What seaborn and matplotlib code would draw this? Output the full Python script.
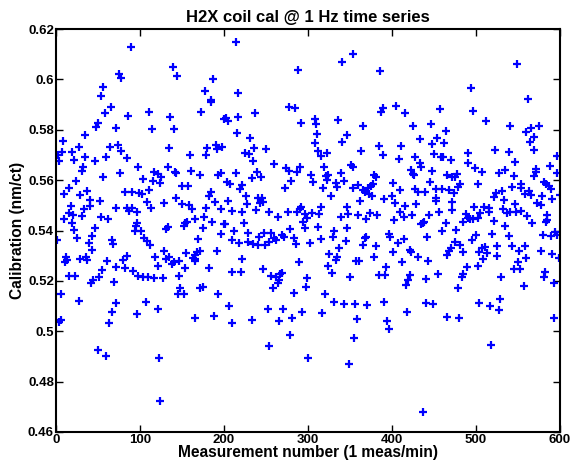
import matplotlib
matplotlib.use("Agg")
import matplotlib.pyplot as plt
import seaborn as sns
import pandas as pd

meas_a = [89,75,77,56,53,65,58,86,50,48,72,8,35,74,64,27,77,7,19,2,34,59,84,21,3,47,98,32,31,76,
          56,24,15,37,9,29,90,82,99,41,52,33,18,40,72,85,91,87,96,15,20,31,54,10,62,19,97,95,46,21,
          94,1,25,43,39,67,68,43,12,13,11,29,36,37,61,85,80,71,82,92,55,51,44,42,16,23,98,69,6,27,
          71,67,96,6,4,63,50,60]
cal_a = [.6130,.6021,.6004,.5971,.5934,.5889,.5868,.5856,.5828,.5810,.5806,.5757,.5779,.5740,.5733,.5733,.5717,.5712,.5712,.5700,
         .5693,.5690,.5687,.5680,.5674,.5674,.5654,.5654,.5636,.5630,.5611,.5595,.5568,.5557,.5544,.5539,.5552,.5551,.5548,.5521,
         .5517,.5484,.5498,.5498,.5488,.5488,.5488,.5479,.5474,.5471,.5462,.5458,.5455,.5445,.5446,.5431,.5431,.5418,.5409,.5402,
         .5400,.5363,.5369,.5379,.5352,.5363,.5347,.5323,.5294,.5283,.5273,.5286,.5294,.5281,.5277,.5297,.5281,.5257,.5250,.5241,
         .5244,.5214,.5204,.5193,.5220,.5220,.5220,.5195,.5146,.5122,.5111,.5078,.5069,.5045,.5036,.5032,.4924,.4902]

meas_b = [139,144,187,177,184,185,111,173,136,200,114,140,134,180,190,198,192,179,159,133,
          117,142,143,161,121,125,104,171,193,197,115,124,150,157,111,102,185,182,143,108,
          129,150,189,158,113,162,178,196,176,165,156,186,154,200,152,133,175,101,131,105,
          108,112,169,196,129,155,172,192,118,134,131,165,168,163,166,165,121,138,140,146,
          154,182,103,110,117,127,147,148,171,175,145,152,193,107,121,166,188,123,124]
cal_b = [.6051,.6015,.6003,.5954,.5918,.5912,.5869,.5869,.5852,.5843,.5803,.5803,.5726,.5729,.5740,.5733,.5722,.5700,.5701,.5654,
         .5634,.5634,.5630,.5635,.5625,.5611,.5603,.5621,.5621,.5627,.5598,.5590,.5578,.5578,.5561,.5545,.5551,.5535,.5528,.5515,
         .5508,.5505,.5515,.5501,.5488,.5484,.5488,.5487,.5455,.5445,.5435,.5433,.5429,.5426,.5416,.5413,.5409,.5400,.5405,.5369,
         .5360,.5343,.5365,.5386,.5320,.5312,.5318,.5320,.5296,.5296,.5286,.5303,.5316,.5290,.5286,.5277,.5260,.5267,.5275,.5277,
         .5250,.5250,.5214,.5214,.5210,.5213,.5220,.5173,.5171,.5175,.5147,.5147,.5148,.5115,.5087,.5053,.5059,.4893,.4725]

meas_c = [214,288,217,277,285,237,202,205,217,292,215,231,236,250,225,230,235,259,274,277,
          290,287,214,239,233,244,204,207,280,221,219,273,226,240,245,205,227,243,246,292,
          209,222,238,253,264,276,287,290,297,294,299,201,224,297,212,229,248,256,269,279,
          283,286,210,218,242,249,254,260,262,272,228,234,241,222,289,210,220,247,256,262,
          267,269,265,264,258,299,298,283,206,252,270,293,281,209,233,265,278,253,300]
cal_c = [.6147,.6037,.5945,.5889,.5885,.5865,.5846,.5835,.5850,.5828,.5789,.5766,.5726,.5722,.5707,.5704,.5677,.5664,.5647,.5638,
         .5651,.5634,.5630,.5631,.5607,.5611,.5591,.5585,.5598,.5581,.5564,.5568,.5535,.5528,.5528,.5517,.5505,.5508,.5515,.5495,
         .5478,.5475,.5482,.5472,.5455,.5474,.5472,.5484,.5466,.5435,.5449,.5425,.5429,.5409,.5400,.5389,.5389,.5389,.5382,.5405,
         .5369,.5346,.5363,.5350,.5373,.5343,.5356,.5369,.5363,.5376,.5356,.5347,.5343,.5286,.5274,.5237,.5237,.5249,.5220,.5217,
         .5228,.5233,.5204,.5191,.5171,.5213,.5177,.5153,.5102,.5089,.5087,.5078,.5054,.5032,.5043,.5039,.4986,.4942,.4893]

meas_d = [354,341,386,389,387,308,310,336,365,346,311,340,308,384,312,315,323,363,389,319,
          351,353,339,321,324,304,306,323,333,343,379,381,377,375,371,366,368,373,376,318,
          335,354,359,401,400,390,327,362,316,347,305,313,339,348,360,369,374,382,402,312,
          346,331,330,315,302,345,369,368,396,398,365,381,337,401,325,334,333,378,324,357,
          361,393,328,385,392,350,320,331,343,356,370,391,317,358,394,396,355,349]
cal_d = [.6100,.6068,.6035,.5888,.5869,.5841,.5822,.5838,.5815,.5778,.5783,.5753,.5749,.5737,.5717,.5696,.5709,.5715,.5701,.5654,
         .5660,.5651,.5630,.5618,.5621,.5621,.5594,.5601,.5587,.5597,.5621,.5611,.5585,.5577,.5568,.5561,.5552,.5545,.5537,.5568,
         .5572,.5568,.5582,.5587,.5535,.5527,.5535,.5517,.5495,.5492,.5471,.5466,.5455,.5466,.5462,.5445,.5471,.5462,.5442,.5415,
         .5409,.5400,.5376,.5368,.5352,.5360,.5376,.5369,.5385,.5373,.5342,.5340,.5330,.5316,.5306,.5296,.5281,.5294,.5261,.5278,
         .5278,.5254,.5233,.5224,.5224,.5214,.5147,.5116,.5107,.5107,.5104,.5118,.5071,.5049,.5041,.5008,.4972,.4868]

meas_e = [494,496,405,415,457,425,446,464,433,454,448,462,411,408,427,450,458,461,470,491,
          490,433,435,499,423,448,425,426,466,471,477,475,445,481,479,502,410,427,431,439,
          452,460,468,474,452,452,472,404,416,429,498,410,414,424,444,456,471,488,490,493,
          496,502,484,437,435,438,464,459,476,414,442,407,495,500,475,481,470,468,485,421,
          423,431,412,443,466,503,502,489,484,483,421,455,419,441,417,479,441,449,503,418,
          466,480,437]
cal_e = [.5967,.5876,.5896,.5868,.5881,.5816,.5822,.5795,.5763,.5766,.5745,.5749,.5736,.5683,.5693,.5703,.5690,.5693,.5680,.5707,
         .5669,.5669,.5654,.5647,.5641,.5638,.5624,.5619,.5621,.5611,.5624,.5614,.5591,.5583,.5574,.5585,.5561,.5564,.5552,.5552,
         .5564,.5564,.5561,.5548,.5528,.5519,.5515,.5508,.5498,.5504,.5495,.5475,.5453,.5462,.5462,.5472,.5482,.5466,.5451,.5447,
         .5445,.5449,.5433,.5431,.5426,.5435,.5431,.5400,.5402,.5367,.5376,.5352,.5363,.5382,.5353,.5343,.5330,.5318,.5314,.5323,
         .5316,.5294,.5273,.5277,.5303,.5314,.5261,.5254,.5228,.5217,.5224,.5226,.5204,.5208,.5184,.5173,.5114,.5109,.5114,.5076,
         .5058,.5054,.4679]

meas_f = [549,562,512,540,575,565,560,569,564,569,523,539,597,547,588,572,571,535,507,527,
          596,569,545,581,583,553,543,554,587,589,531,524,558,563,566,578,600,521,533,591,
          546,573,577,510,515,532,505,516,537,540,548,554,561,585,521,585,583,567,535,519,
          539,580,589,594,596,525,543,558,511,507,513,508,525,551,577,591,599,560,550,545,
          552,582,530,581,557,593,517,528,527,593,518]
cal_f = [.6061,.5922,.5835,.5815,.5815,.5808,.5791,.5773,.5753,.5720,.5720,.5710,.5696,.5673,.5658,.5643,.5634,.5641,.5634,.5630,
         .5627,.5618,.5617,.5591,.5583,.5585,.5572,.5568,.5577,.5566,.5555,.5548,.5545,.5555,.5541,.5535,.5541,.5532,.5521,.5524,
         .5505,.5510,.5501,.5495,.5488,.5484,.5471,.5475,.5468,.5472,.5472,.5478,.5458,.5462,.5437,.5442,.5433,.5429,.5416,.5386,
         .5378,.5382,.5380,.5393,.5382,.5340,.5340,.5340,.5336,.5330,.5310,.5286,.5300,.5318,.5318,.5306,.5292,.5290,.5273,.5246,
         .5246,.5237,.5217,.5217,.5181,.5191,.5099,.5128,.5086,.5052,.4945]

x_ticks = [0, 100, 200, 300, 400, 500, 600]
y_ticks = [0.46, 0.48, 0.5, 0.52, 0.54, 0.56, 0.58, 0.6, 0.62]
y_tick_labels = ["0.46", "0.48", "0.5", "0.52", "0.54", "0.56", "0.58", "0.6", "0.62"]

title = "H2X coil cal @ 1 Hz time series"
xlabel = "Measurement number (1 meas/min)"
ylabel = "Calibration (nm/ct)"

xs, ys = [], []
for mx, cy in [(meas_a, cal_a), (meas_b, cal_b), (meas_c, cal_c),
               (meas_d, cal_d), (meas_e, cal_e), (meas_f, cal_f)]:
    assert len(mx) == len(cy), (len(mx), len(cy))
    xs += mx
    ys += cy
df = pd.DataFrame({"meas": xs, "cal": ys})

# ---- style ----
sns.set_style("ticks")
plt.rcParams["font.family"] = ["Liberation Sans", "DejaVu Sans"]
plt.rcParams["font.weight"] = "bold"
plt.rcParams["text.color"] = "black"
plt.rcParams["axes.labelcolor"] = "black"
plt.rcParams["xtick.color"] = "black"
plt.rcParams["ytick.color"] = "black"

fig = plt.figure(figsize=(5.70, 4.63), dpi=100)
ax = fig.add_axes([56/570, 1 - 432/463, 504/570, 403/463])

sns.scatterplot(data=df, x="meas", y="cal", ax=ax, marker="+", color="#0000ff",
                s=28, linewidth=1.6, legend=False)

ax.set_xlim(0, 600)
ax.set_ylim(0.46, 0.62)
ax.set_xticks(x_ticks)
ax.set_xticklabels([str(t) for t in x_ticks])
ax.set_yticks(y_ticks)
ax.set_yticklabels(y_tick_labels)
ax.tick_params(direction="in", length=5, width=1.0, top=True, right=True,
               labelsize=9.5, pad=1.5, colors="black", labelcolor="black")
for lab in ax.get_xticklabels() + ax.get_yticklabels():
    lab.set_fontweight("bold")
    lab.set_color("black")
for sp in ax.spines.values():
    sp.set_visible(True)
    sp.set_linewidth(1.5)
    sp.set_color("black")

ax.set_title(title, fontsize=12, fontweight="bold", pad=5, color="black")
ax.set_xlabel(xlabel, fontsize=11.2, fontweight="bold", labelpad=-1, color="black")
ax.set_ylabel(ylabel, fontsize=11.2, fontweight="bold", labelpad=2, color="black")

fig.savefig("out.png", dpi=100)
